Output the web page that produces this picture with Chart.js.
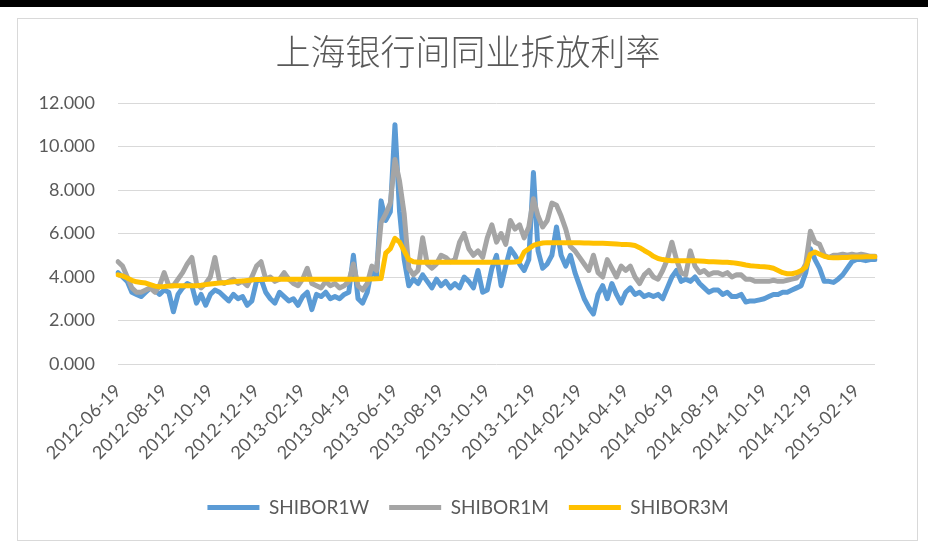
<!DOCTYPE html>
<html>
<head>
<meta charset="utf-8">
<script src="https://cdn.jsdelivr.net/npm/chart.js@4/dist/chart.umd.min.js"></script>
<style>
  html, body { margin: 0; padding: 0; background: #fff; }
  body { width: 928px; height: 542px; position: relative; overflow: hidden; }
  .top-bar { position: absolute; left: 0; top: 0; width: 928px; height: 7px; background: #000; }
  .frame { position: absolute; left: 17px; top: 18px; width: 901px; height: 523px; border: 1px solid #d9d9d9; box-sizing: border-box; }
  .chart-box { position: absolute; left: 18px; top: 19px; width: 900px; height: 521px; }
</style>
</head>
<body>
<div class="top-bar"></div>
<div class="frame"></div>
<div class="chart-box"><canvas id="shiborChart"></canvas></div>
<script>
// Tick labels every two months (10 points per interval)
const tickLabels = ['2012-06-19', '2012-08-19', '2012-10-19', '2012-12-19', '2013-02-19', '2013-04-19',
    '2013-06-19', '2013-08-19', '2013-10-19', '2013-12-19', '2014-02-19', '2014-04-19',
    '2014-06-19', '2014-08-19', '2014-10-19', '2014-12-19', '2015-02-19'];

const SHIBOR1W = [
    4.20, 4.00, 3.80, 3.30, 3.20, 3.10, 3.30, 3.50, 3.40, 3.20,
    3.40, 3.30, 2.40, 3.20, 3.50, 3.70, 3.60, 2.80, 3.20, 2.70,
    3.20, 3.40, 3.30, 3.10, 2.90, 3.20, 3.00, 3.10, 2.70, 2.90,
    3.80, 3.90, 3.30, 3.00, 2.80, 3.30, 3.10, 2.90, 3.00, 2.70,
    3.10, 3.30, 2.50, 3.20, 3.10, 3.30, 3.00, 3.10, 3.00, 3.20,
    3.30, 5.00, 3.00, 2.80, 3.30, 4.40, 4.00, 7.50, 6.60, 7.00,
    11.00, 7.00, 4.80, 3.60, 3.90, 3.70, 4.10, 3.80, 3.50, 3.90,
    3.60, 3.80, 3.50, 3.70, 3.50, 4.00, 3.80, 3.50, 4.30, 3.30,
    3.40, 4.40, 5.00, 3.60, 4.50, 5.30, 5.00, 4.60, 4.30, 4.80,
    8.80, 5.20, 4.40, 4.60, 5.00, 6.30, 5.00, 4.50, 5.00, 4.20,
    3.60, 3.00, 2.60, 2.30, 3.20, 3.60, 3.00, 3.70, 3.20, 2.80,
    3.30, 3.50, 3.20, 3.30, 3.10, 3.20, 3.10, 3.20, 3.00, 3.50,
    4.00, 4.30, 3.80, 3.90, 3.80, 4.00, 3.70, 3.50, 3.30, 3.40,
    3.40, 3.20, 3.30, 3.10, 3.10, 3.20, 2.85, 2.90, 2.90, 2.95,
    3.00, 3.10, 3.20, 3.20, 3.30, 3.30, 3.40, 3.50, 3.60, 4.20,
    5.30, 4.80, 4.40, 3.80, 3.80, 3.75, 3.90, 4.10, 4.40, 4.70,
    4.80, 4.80, 4.75, 4.80, 4.80
];

const SHIBOR1M = [
    4.70, 4.50, 4.00, 3.50, 3.30, 3.30, 3.40, 3.50, 3.30, 3.60,
    4.20, 3.60, 3.60, 3.90, 4.20, 4.60, 4.90, 3.70, 3.50, 3.70,
    4.00, 4.90, 3.80, 3.70, 3.80, 3.90, 3.70, 3.80, 3.60, 4.00,
    4.50, 4.70, 3.90, 4.00, 3.80, 3.90, 4.20, 3.90, 3.70, 3.60,
    3.90, 4.40, 3.70, 3.60, 3.50, 3.80, 3.60, 3.70, 3.50, 3.60,
    3.80, 4.60, 3.60, 3.40, 3.70, 4.50, 4.30, 6.50, 6.90, 7.40,
    9.40, 8.40, 6.90, 4.40, 4.10, 4.30, 5.80, 4.60, 4.40, 4.60,
    5.00, 4.90, 4.70, 4.80, 5.60, 6.00, 5.30, 5.00, 5.20, 4.90,
    5.80, 6.40, 5.60, 6.00, 5.50, 6.60, 6.20, 6.40, 5.80, 6.30,
    7.60, 6.80, 6.30, 6.60, 7.40, 7.30, 6.80, 6.20, 5.40, 5.20,
    4.90, 4.60, 4.30, 5.00, 4.20, 4.00, 4.80, 4.40, 4.00, 4.50,
    4.30, 4.50, 4.00, 3.70, 4.10, 4.30, 4.00, 3.90, 4.30, 4.80,
    5.60, 4.80, 4.20, 4.10, 5.20, 4.50, 4.20, 4.30, 4.10, 4.20,
    4.20, 4.10, 4.20, 4.00, 4.10, 4.10, 3.90, 3.90, 3.80, 3.80,
    3.80, 3.80, 3.85, 3.80, 3.80, 3.85, 3.90, 3.95, 4.20, 4.60,
    6.10, 5.60, 5.50, 5.00, 4.90, 5.00, 5.00, 5.05, 5.00, 5.05,
    5.00, 5.05, 5.00, 4.95, 4.95
];

const SHIBOR3M = [
    4.10, 4.05, 3.95, 3.85, 3.78, 3.75, 3.72, 3.65, 3.58, 3.55,
    3.56, 3.58, 3.60, 3.60, 3.60, 3.60, 3.60, 3.60, 3.62, 3.65,
    3.68, 3.70, 3.72, 3.74, 3.76, 3.78, 3.80, 3.82, 3.84, 3.86,
    3.88, 3.89, 3.90, 3.90, 3.90, 3.90, 3.90, 3.90, 3.90, 3.90,
    3.90, 3.90, 3.90, 3.90, 3.90, 3.90, 3.90, 3.90, 3.90, 3.90,
    3.90, 3.90, 3.90, 3.90, 3.90, 3.91, 3.92, 3.93, 5.10, 5.30,
    5.78, 5.60, 5.20, 4.80, 4.70, 4.68, 4.68, 4.68, 4.68, 4.68,
    4.68, 4.68, 4.68, 4.68, 4.68, 4.68, 4.68, 4.68, 4.68, 4.68,
    4.68, 4.68, 4.68, 4.68, 4.68, 4.68, 4.69, 4.72, 5.15, 5.30,
    5.45, 5.52, 5.56, 5.58, 5.58, 5.58, 5.58, 5.58, 5.58, 5.58,
    5.57, 5.56, 5.56, 5.55, 5.55, 5.55, 5.54, 5.53, 5.52, 5.50,
    5.50, 5.48, 5.45, 5.35, 5.22, 5.10, 4.95, 4.85, 4.80, 4.77,
    4.75, 4.75, 4.75, 4.75, 4.75, 4.75, 4.74, 4.72, 4.70, 4.70,
    4.69, 4.68, 4.68, 4.66, 4.63, 4.60, 4.55, 4.52, 4.50, 4.48,
    4.47, 4.45, 4.40, 4.30, 4.20, 4.15, 4.15, 4.20, 4.30, 4.45,
    5.05, 5.15, 5.05, 4.95, 4.90, 4.88, 4.88, 4.90, 4.90, 4.92,
    4.92, 4.92, 4.93, 4.93, 4.93
];

const yTicks = [0, 2, 4, 6, 8, 10, 12];

// category labels: a date at every tick, blank in between
const labels = SHIBOR1W.map((v, i) => (i % 10 === 0 ? tickLabels[i / 10] : ''));

const textColor = '#595959';
const gridColor = '#d9d9d9';
const baseFont = 'Lato, "Open Sans", "Liberation Sans", sans-serif';

const ctx = document.getElementById('shiborChart').getContext('2d');

function makeSeries(label, data, color, order) {
    return {
        label: label,
        data: data,
        borderColor: color,
        backgroundColor: color,
        borderWidth: 5,
        borderJoinStyle: 'round',
        borderCapStyle: 'round',
        pointRadius: 0,
        tension: 0,
        fill: false,
        order: order
    };
}

const shiborChart = new Chart(ctx, {
    type: 'line',
    data: {
        labels: labels,
        datasets: [
            makeSeries('SHIBOR1W', SHIBOR1W, '#5B9BD5', 3),
            makeSeries('SHIBOR1M', SHIBOR1M, '#A5A5A5', 2),
            makeSeries('SHIBOR3M', SHIBOR3M, '#FFC000', 1)
        ]
    },
    options: {
        responsive: true,
        maintainAspectRatio: false,
        animation: false,
        layout: {
            padding: { left: 0, right: 0, top: 0, bottom: 13 }
        },
        plugins: {
            title: {
                display: true,
                text: '上海银行间同业拆放利率',
                color: textColor,
                font: { family: '"Noto Sans CJK SC", sans-serif', size: 35, weight: '300' },
                padding: { top: 12, bottom: 30 }
            },
            legend: {
                position: 'bottom',
                labels: {
                    color: textColor,
                    font: { family: baseFont, size: 19 },
                    boxWidth: 52,
                    boxHeight: 5,
                    padding: 20,
                    sort: (a, b) => a.datasetIndex - b.datasetIndex,
                    generateLabels: function(chart) {
                        return Chart.defaults.plugins.legend.labels.generateLabels(chart)
                            .map(l => Object.assign(l, { lineWidth: 0 }));
                    }
                }
            },
            tooltip: { enabled: false }
        },
        scales: {
            x: {
                grid: { display: false, drawTicks: false },
                border: { display: false },
                ticks: {
                    autoSkip: false,
                    minRotation: 45,
                    maxRotation: 45,
                    padding: 16,
                    color: textColor,
                    font: { family: baseFont, size: 18 }
                },
                afterFit: function(scale) {
                    scale.height = 114;
                }
            },
            y: {
                min: 0,
                max: 12,
                afterBuildTicks: function(scale) {
                    scale.ticks = yTicks.map(v => ({ value: v }));
                },
                grid: { color: gridColor, lineWidth: 1, drawTicks: false },
                border: { display: false },
                ticks: {
                    padding: 23,
                    color: textColor,
                    font: { family: baseFont, size: 18 },
                    callback: function(value) {
                        return value.toFixed(3);
                    }
                },
                afterFit: function(scale) {
                    scale.width = 100;
                }
            },
            // empty right-hand spacer so the plot ends where the original does
            // while title and legend stay centred on the whole frame
            spacer: {
                type: 'linear',
                position: 'right',
                display: true,
                grid: { display: false, drawTicks: false },
                border: { display: false },
                ticks: { display: false },
                afterFit: function(scale) {
                    scale.width = 43;
                }
            }
        }
    }
});
</script>
</body>
</html>
